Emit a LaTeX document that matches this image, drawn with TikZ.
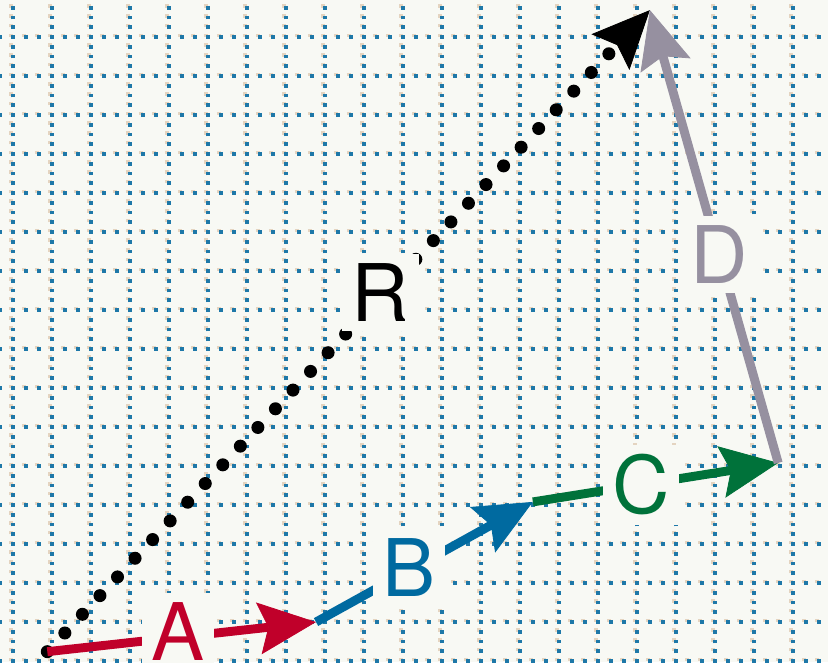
\documentclass[tikz,border=0pt]{standalone}
\usepackage{fontspec}
\newfontfamily\vecfont{TeX Gyre Heros}
\usepackage{xcolor}
\usepackage{tikz}
\usetikzlibrary{arrows.meta}

\definecolor{paper}{RGB}{248,249,244}
\definecolor{griddot}{RGB}{30,120,168}
\definecolor{gridtint}{RGB}{228,212,192}
\definecolor{vecred}{RGB}{192,0,42}
\definecolor{vecblue}{RGB}{0,106,160}
\definecolor{vecgreen}{RGB}{0,114,58}
\definecolor{vecgray}{RGB}{150,144,160}

\begin{document}
\begin{tikzpicture}[
    >={Stealth[length=42pt, width=38pt, inset=7pt, line width=0.6pt]},
    vec/.style={line width=6.5pt, ->},
    resultant/.style={black, line width=9.5pt, line cap=round, dash pattern=on 0pt off 18.7pt, ->},
    gridv/.style={line width=2.7pt, dash pattern=on 2.7pt off 4.413pt, dash phase=1.35pt},
    gridh/.style={line width=2.7pt, dash pattern=on 2.7pt off 6.785pt, dash phase=1.35pt},
    lbl/.style={fill=paper, inner sep=7pt, font=\vecfont\fontsize{58}{60}\selectfont}
  ]

    % Paper
    \useasboundingbox (-0.333,-0.026) rectangle (20.897,16.949);
    \fill[paper] (-0.333,-0.026) rectangle (20.897,16.949);
    \clip (-0.333,-0.026) rectangle (20.897,16.949);

    % Dotted grid, with its tinted offset print
    \begin{scope}[gridtint, xshift=-1.6pt, yshift=1.2pt]
      \foreach \gx in {0,...,21} \draw[gridv] (\gx,-1) -- (\gx,18);
      \foreach \gy in {0,...,17} \draw[gridh] (-1,\gy) -- (22,\gy);
    \end{scope}
    \begin{scope}[griddot]
      \foreach \gx in {0,...,21} \draw[gridv] (\gx,-1) -- (\gx,18);
      \foreach \gy in {0,...,17} \draw[gridh] (-1,\gy) -- (22,\gy);
    \end{scope}

    % Head and tail points
    \coordinate (o) at (0.88,0.24);
    \coordinate (a) at (7.77,1.0);
    \coordinate (b) at (13.33,4.08);
    \coordinate (c) at (19.62,5.08);
    \coordinate (d) at (16.33,16.69);

    % Resultant
    \draw[resultant] (o) -- node[lbl, pos=0.56, xshift=-3pt] {R} (d);

    % Vectors head to tail
    \draw[vec, vecred] (o) -- node[lbl, pos=0.485, yshift=4pt] {A} (a);
    \draw[vec, vecblue] (a) -- node[lbl, pos=0.43, yshift=2pt] {B} (b);
    \draw[vec, vecgreen] (b) -- node[lbl, pos=0.44] {C} (c);
    \draw[vec, vecgray] (c) -- node[lbl, pos=0.46] {D} (d);

  \end{tikzpicture}
\end{document}
